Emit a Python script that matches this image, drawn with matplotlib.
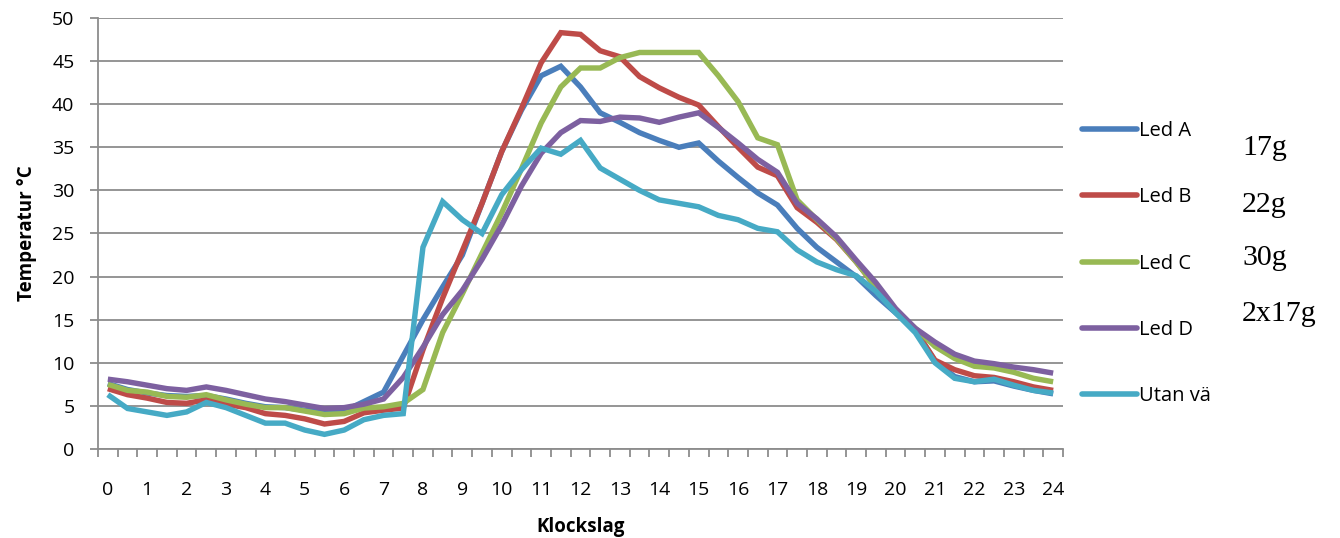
import numpy as np
import matplotlib
matplotlib.use("Agg")
import matplotlib.pyplot as plt

hours = [i * 0.5 for i in range(49)]
tick_labels = [str(h) for h in range(25)]
series_names = ["Led A", "Led B", "Led C", "Led D", "Utan vä"]
side_notes = ["17g", "22g", "30g", "2x17g"]

led_a = [7.6, 6.9, 6.5, 6.2, 6.1, 6.2, 5.8, 5.3, 4.9, 4.8, 4.5, 4.3, 4.4, 5.5, 6.6, 10.8,
         15.0, 18.8, 22.5, 28.5, 34.5, 39.3, 43.3, 44.4, 42.0, 39.0, 37.9, 36.7, 35.8, 35.0,
         35.5, 33.4, 31.5, 29.7, 28.3, 25.6, 23.4, 21.7, 20.0, 17.8, 15.8, 13.8, 10.2, 8.4,
         7.8, 7.9, 7.3, 6.8, 6.4]
led_b = [7.0, 6.3, 5.9, 5.4, 5.3, 5.7, 5.2, 4.8, 4.1, 3.9, 3.5, 2.9, 3.2, 4.2, 4.5, 4.75,
         11.5, 17.5, 23.0, 28.5, 34.5, 39.5, 44.8, 48.3, 48.1, 46.2, 45.5, 43.2, 41.9, 40.8,
         39.9, 37.4, 35.0, 32.7, 31.7, 28.0, 26.3, 24.3, 21.7, 18.8, 16.0, 13.8, 10.3, 9.2,
         8.5, 8.3, 7.8, 7.2, 6.8]
led_c = [7.5, 6.8, 6.6, 6.1, 6.0, 6.3, 5.7, 5.2, 4.8, 4.8, 4.4, 4.0, 4.1, 4.75, 4.9, 5.3,
         6.9, 13.5, 18.0, 22.7, 27.4, 32.5, 37.8, 42.0, 44.2, 44.2, 45.4, 46.0, 46.0, 46.0,
         46.0, 43.3, 40.3, 36.1, 35.3, 28.9, 26.6, 24.4, 21.7, 18.8, 16.0, 14.0, 11.9, 10.5,
         9.6, 9.4, 8.9, 8.2, 7.8]
led_d = [8.1, 7.8, 7.4, 7.0, 6.8, 7.2, 6.8, 6.3, 5.8, 5.5, 5.1, 4.7, 4.8, 5.2, 5.8, 8.3,
         11.8, 15.6, 18.4, 22.0, 26.0, 30.5, 34.3, 36.7, 38.1, 38.0, 38.5, 38.4, 37.9, 38.5,
         39.0, 37.3, 35.5, 33.6, 32.1, 28.5, 26.7, 24.6, 21.9, 19.3, 16.3, 14.0, 12.4, 11.0,
         10.2, 9.9, 9.5, 9.2, 8.8]
utan = [6.3, 4.7, 4.3, 3.9, 4.3, 5.4, 4.8, 3.9, 3.0, 3.0, 2.2, 1.7, 2.2, 3.4, 3.9, 4.1,
        23.4, 28.7, 26.6, 25.0, 29.5, 32.4, 34.9, 34.2, 35.8, 32.6, 31.3, 30.0, 28.9, 28.5,
        28.1, 27.1, 26.6, 25.6, 25.2, 23.1, 21.7, 20.8, 20.1, 18.3, 15.8, 13.5, 10.0, 8.2,
        7.8, 8.1, 7.4, 6.8, 6.5]

colors = ["#4A7EBB", "#BE4B48", "#98B954", "#7D60A0", "#46AAC5"]
series = [led_a, led_b, led_c, led_d, utan]

plt.rcParams['font.family'] = ['Open Sans', 'DejaVu Sans']

fig = plt.figure(figsize=(13.4, 5.38), dpi=100)
ax = fig.add_axes([98/1340, 89/538, (1063-98)/1340, (449-18)/538])

lines = []
for name, vals, c in zip(series_names, series, colors):
    ln, = ax.plot(hours, vals, color=c, lw=3.9, solid_joinstyle='miter',
                  solid_capstyle='butt', label=name)
    lines.append(ln)

ax.set_xlim(-0.25, 24.25)
ax.set_ylim(0, 50)
ax.set_yticks(np.arange(0, 51, 5))
ax.yaxis.grid(True, color="#8C8C8C", lw=1.3)
ax.set_axisbelow(True)
ax.set_xticks(range(25))
ax.set_xticklabels(tick_labels)
ax.set_xticks(np.arange(-0.25, 24.26, 0.5), minor=True)
ax.tick_params(axis='x', which='major', length=0, labelsize=14, pad=23, colors='black')
ax.tick_params(axis='x', which='minor', length=6, width=1.3, color="#8C8C8C")
ax.tick_params(axis='y', which='major', length=6, width=1.3, color="#8C8C8C",
               labelsize=14, pad=11)
for s in ['top', 'right']:
    ax.spines[s].set_visible(False)
for s in ['left', 'bottom']:
    ax.spines[s].set_color("#8C8C8C")
    ax.spines[s].set_linewidth(1.3)

ax.set_xlabel("Klockslag", fontsize=13.5, fontweight='bold', labelpad=13)
ax.set_ylabel("Temperatur °C", fontsize=13.5, fontweight='bold', labelpad=11)

leg = fig.legend(handles=lines, loc='upper left', bbox_to_anchor=(1074/1340, 1 - 113/538),
                 frameon=False, fontsize=14.5, handlelength=2.75, handletextpad=0.1,
                 labelspacing=2.3, borderaxespad=0)
for h in leg.get_lines():
    h.set_solid_capstyle('round')
    h.set_linewidth(4.0)

note_y = [148, 205, 258, 314]
for txt, y in zip(side_notes, note_y):
    fig.text(1242/1340, 1 - y/538, txt, family='Liberation Serif', fontsize=21.5,
             ha='left', va='center')

fig.savefig("out.png", dpi=100)
